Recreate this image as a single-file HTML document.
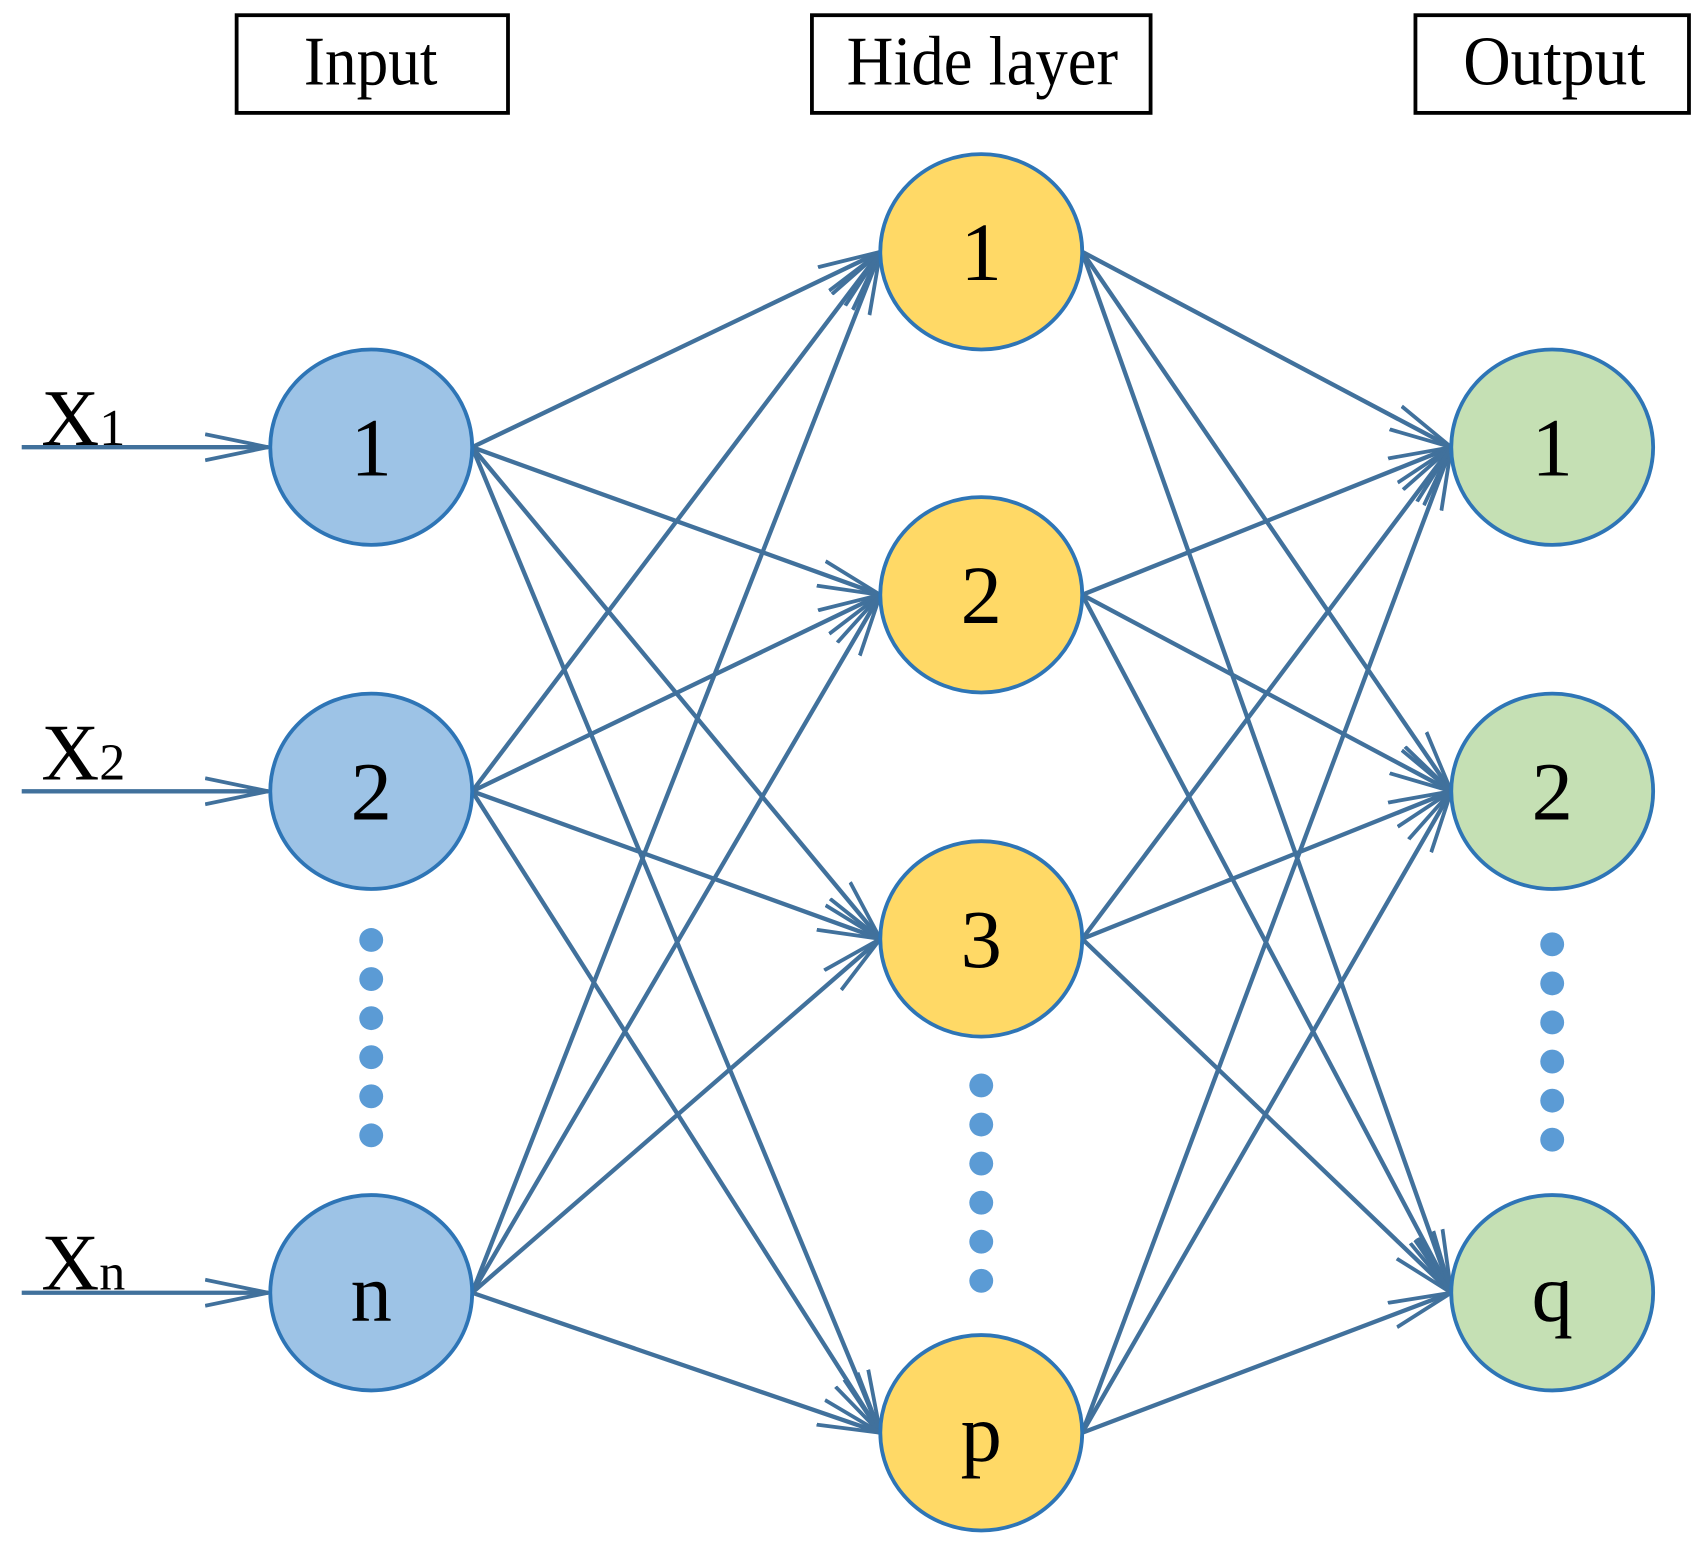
<!DOCTYPE html>
<html><head><style>body{margin:0;background:#fff}</style></head><body>
<svg width="1702" height="1550" viewBox="0 0 1568 1428" preserveAspectRatio="none" xmlns="http://www.w3.org/2000/svg" font-family="Liberation Serif, serif">
<defs><marker id="a" markerWidth="60" markerHeight="30" refX="58" refY="15" orient="auto" markerUnits="userSpaceOnUse"><path d="M0,3 L58,15 L0,27" fill="none" stroke="#41719c" stroke-width="3.5"/></marker></defs>
<g fill="#fff" stroke="#000" stroke-width="3.5">
<rect x="218" y="14" width="250" height="90"/><rect x="748" y="14" width="312" height="90"/><rect x="1304" y="14" width="252" height="90"/></g>
<g font-size="64" lengthAdjust="spacingAndGlyphs"><text x="280" y="78" textLength="123" lengthAdjust="spacingAndGlyphs">Input</text><text x="780" y="78" textLength="250" lengthAdjust="spacingAndGlyphs">Hide layer</text><text x="1348" y="78" textLength="168" lengthAdjust="spacingAndGlyphs">Output</text></g>
<g stroke="#41719c" stroke-width="4" marker-end="url(#a)" id="e"></g>
<g id="n"></g>
<g font-size="74"><text x="38" y="410">X<tspan font-size="48">1</tspan></text><text x="38" y="718">X<tspan font-size="48">2</tspan></text><text x="38" y="1188">X<tspan font-size="48">n</tspan></text></g>
<script>
var NS="http://www.w3.org/2000/svg",e=document.getElementById("e"),n=document.getElementById("n");
var I=[412,729,1191],H=[232,548,865,1320],O=[412,729,1191];
function L(x1,y1,x2,y2){var l=document.createElementNS(NS,"line");l.setAttribute("x1",x1);l.setAttribute("y1",y1);l.setAttribute("x2",x2);l.setAttribute("y2",y2);e.appendChild(l);}
I.forEach(function(y){L(20,y,247,y);H.forEach(function(h){L(435,y,811,h);});});
H.forEach(function(h){O.forEach(function(o){L(997,h,1337,o);});});
function C(cx,cy,f,t){var c=document.createElementNS(NS,"ellipse");c.setAttribute("cx",cx);c.setAttribute("cy",cy);c.setAttribute("rx",93);c.setAttribute("ry",90);c.setAttribute("fill",f);c.setAttribute("stroke","#2e75b6");c.setAttribute("stroke-width",3.5);n.appendChild(c);var x=document.createElementNS(NS,"text");x.setAttribute("x",cx);x.setAttribute("y",cy+26);x.setAttribute("font-size",76);x.setAttribute("text-anchor","middle");x.textContent=t;n.appendChild(x);}
["1","2","n"].forEach(function(t,i){C(342,I[i],"#9dc3e6",t);});
["1","2","3","p"].forEach(function(t,i){C(904,H[i],"#ffd966",t);});
["1","2","q"].forEach(function(t,i){C(1430,O[i],"#c5e0b4",t);});
function D(x,y0){for(var k=0;k<6;k++){var c=document.createElementNS(NS,"circle");c.setAttribute("cx",x);c.setAttribute("cy",y0+k*36);c.setAttribute("r",11);c.setAttribute("fill","#5b9bd5");n.appendChild(c);}}
D(342,866);D(904,1000);D(1430,870);
</script>
</svg>
</body></html>
